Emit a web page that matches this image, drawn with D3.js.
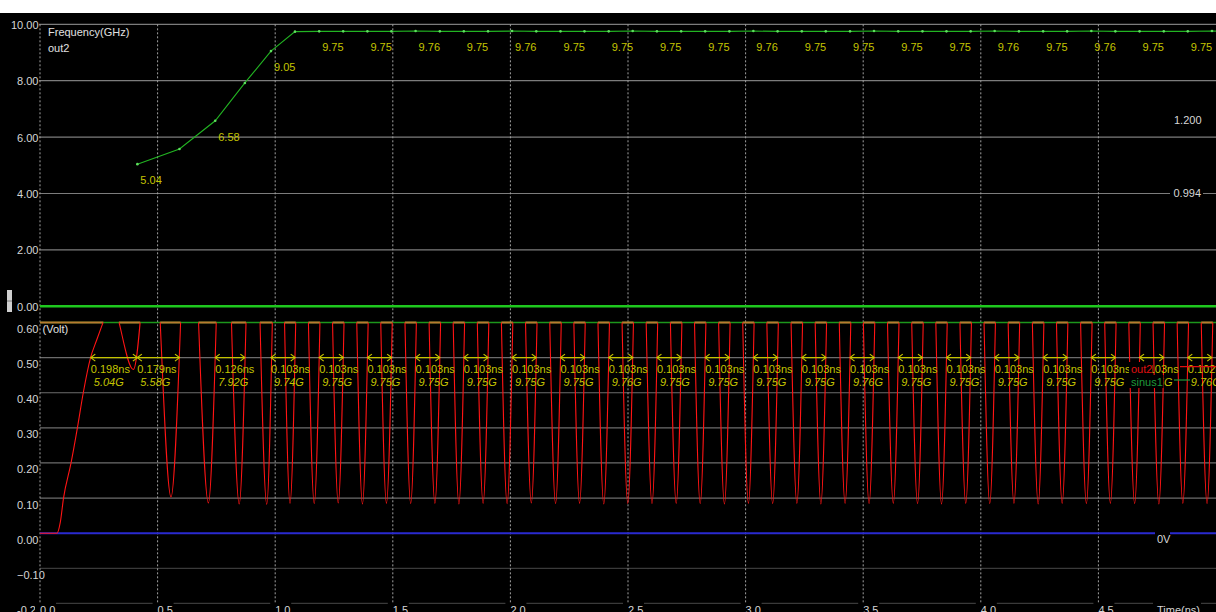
<!DOCTYPE html>
<html><head><meta charset="utf-8">
<script src="https://cdn.jsdelivr.net/npm/d3@7"></script>
<style>
html,body{margin:0;padding:0;background:#000;}
svg{display:block;}
text{font-family:"Liberation Sans",Arial,sans-serif;font-size:11px;}
</style></head><body>
<svg id="chart" width="1216" height="612"></svg>
<script>
// ---------- data ----------
const timeTicks = [0, 0.5, 1, 1.5, 2, 2.5, 3, 3.5, 4, 4.5];
const timeTickLabels = ["0.0","0.5","1.0","1.5","2.0","2.5","3.0","3.5","4.0","4.5"];
const freqTicks = [10, 8, 6, 4, 2, 0];
const voltTicks = [0.6, 0.5, 0.4, 0.3, 0.2, 0.1, 0, -0.1];

// out2 frequency, one point per period (time in ns, GHz)
const freqTime = [0.414, 0.593, 0.745, 0.871, 0.982,
  1.084, 1.187, 1.289, 1.392, 1.494, 1.597, 1.700, 1.802, 1.905, 2.007,
  2.110, 2.213, 2.315, 2.418, 2.520, 2.623, 2.726, 2.828, 2.931, 3.033,
  3.136, 3.239, 3.341, 3.444, 3.546, 3.649, 3.752, 3.854, 3.957, 4.059,
  4.162, 4.265, 4.367, 4.470, 4.572, 4.675, 4.778, 4.880, 4.983, 5.086];
const freqGHz = [5.04, 5.58, 6.58, 7.92, 9.05,
  9.74, 9.75, 9.75, 9.75, 9.75, 9.76, 9.75, 9.75, 9.75, 9.76,
  9.75, 9.75, 9.75, 9.75, 9.76, 9.75, 9.75, 9.75, 9.75, 9.76,
  9.75, 9.75, 9.75, 9.75, 9.76, 9.75, 9.75, 9.75, 9.75, 9.76,
  9.75, 9.75, 9.75, 9.76, 9.75, 9.75, 9.75, 9.75, 9.76, 9.75];
// points that carry a value label
const freqLabelIdx = [0, 2, 4, 6, 8, 10, 12, 14, 16, 18, 20, 22, 24, 26, 28, 30, 32, 34, 36, 38, 40, 42];

// out2 waveform: start-up edge, then alternating minima / maxima (ns, V)
const waveTime = [0.000, 0.072, 0.086, 0.100, 0.132, 0.159, 0.184, 0.215, 0.241, 0.268, 0.301,
  0.397, 0.477, 0.557, 0.636, 0.716, 0.782, 0.847, 0.906, 0.964, 1.014, 1.063,
  1.114, 1.166, 1.217, 1.268, 1.320, 1.371, 1.422, 1.473, 1.525, 1.576,
  1.627, 1.679, 1.730, 1.781, 1.832, 1.884, 1.935, 1.986, 2.037, 2.089,
  2.140, 2.192, 2.243, 2.294, 2.345, 2.397, 2.448, 2.499, 2.550, 2.602,
  2.653, 2.705, 2.756, 2.807, 2.858, 2.910, 2.961, 3.012, 3.063, 3.115,
  3.166, 3.218, 3.269, 3.320, 3.371, 3.423, 3.474, 3.525, 3.576, 3.628,
  3.679, 3.731, 3.782, 3.833, 3.884, 3.936, 3.987, 4.038, 4.089, 4.141,
  4.192, 4.244, 4.295, 4.346, 4.397, 4.449, 4.500, 4.551, 4.602, 4.654,
  4.705, 4.757, 4.808, 4.859, 4.910, 4.962, 5.013, 5.064];
const waveVolt = [0.000, 0.000, 0.030, 0.100, 0.200, 0.300, 0.400, 0.500, 0.550, 0.600, 0.660,
  0.466, 0.920, 0.103, 1.050, 0.086, 1.100, 0.083, 1.150, 0.082, 1.200, 0.085,
  1.200, 0.084, 1.200, 0.086, 1.200, 0.083, 1.200, 0.085, 1.200, 0.084,
  1.200, 0.085, 1.200, 0.083, 1.200, 0.085, 1.200, 0.084, 1.200, 0.086,
  1.200, 0.084, 1.200, 0.085, 1.200, 0.083, 1.200, 0.085, 1.200, 0.084,
  1.200, 0.085, 1.200, 0.084, 1.200, 0.083, 1.200, 0.085, 1.200, 0.084,
  1.200, 0.085, 1.200, 0.083, 1.200, 0.085, 1.200, 0.084, 1.200, 0.085,
  1.200, 0.084, 1.200, 0.083, 1.200, 0.085, 1.200, 0.084, 1.200, 0.085,
  1.200, 0.083, 1.200, 0.085, 1.200, 0.084, 1.200, 0.085, 1.200, 0.084,
  1.200, 0.083, 1.200, 0.085, 1.200, 0.084, 1.200, 0.085];

// period measurements on out2 at the 0.5 V level
const measStart = [0.216, 0.414, 0.745, 0.982, 1.187, 1.392, 1.597, 1.802, 2.007, 2.213,
  2.418, 2.623, 2.828, 3.033, 3.239, 3.444, 3.649, 3.854, 4.059, 4.265, 4.470, 4.675, 4.880];
const measPeriod = [0.198, 0.179, 0.126, 0.103, 0.103, 0.103, 0.103, 0.103, 0.103, 0.103,
  0.103, 0.103, 0.103, 0.103, 0.103, 0.103, 0.103, 0.103, 0.103, 0.103, 0.103, 0.103, 0.102];
const measFreq = [5.04, 5.58, 7.92, 9.74, 9.75, 9.75, 9.75, 9.75, 9.75, 9.75,
  9.76, 9.75, 9.75, 9.75, 9.75, 9.76, 9.75, 9.75, 9.75, 9.75, 9.75, 9.75, 9.76];

// ---------- drawing ----------
const W = 1216, H = 612, X0 = 40, X1 = 1216;
const svg = d3.select("#chart");
svg.append("rect").attr("width", W).attr("height", H).attr("fill", "#000");
svg.append("rect").attr("width", W).attr("height", 13).attr("fill", "#fff");

const x = d3.scaleLinear().domain([0, 5]).range([X0, X1]);
const yF = d3.scaleLinear().domain([0, 10]).range([306.3, 24.3]);
const yV = d3.scaleLinear().domain([-0.2, 0.6]).range([603.4, 322.5]);
const f2 = d3.format(".2f"), f3 = d3.format(".3f");
const axisCol = "#d6d6d6", yel = "#c4c400";

// top panel horizontal grid
svg.append("g").selectAll("line").data(freqTicks.filter(d => d > 0)).join("line")
  .attr("x1", 39).attr("x2", X1).attr("y1", d => yF(d)).attr("y2", d => yF(d))
  .attr("stroke", "#7c7c7c").attr("stroke-width", 1.2);
svg.append("g").selectAll("text").data(freqTicks).join("text")
  .attr("x", 38.5).attr("y", d => yF(d) + 4.5).attr("text-anchor", "end")
  .attr("fill", axisCol).text(d => f2(d));

// bottom panel horizontal grid
svg.append("g").selectAll("line").data(voltTicks.filter(d => d !== 0 && d !== 0.6).concat([-0.2])).join("line")
  .attr("x1", X0).attr("x2", X1).attr("y1", d => yV(d)).attr("y2", d => yV(d))
  .attr("stroke", d => d > 0 ? "#6c6c6c" : "#3a3a3a").attr("stroke-width", 1.2);
svg.append("g").selectAll("text").data(voltTicks).join("text")
  .attr("x", 17).attr("y", d => yV(d) + 10.5)
  .attr("fill", axisCol).text(d => f2(d));
svg.append("text").attr("x", 17).attr("y", 613.5).attr("fill", axisCol).text("-0.2");

// x tick label backgrounds (cut the bottom grid line) and labels
const xl = svg.append("g");
xl.selectAll("rect").data(timeTicks).join("rect")
  .attr("x", d => x(d) - 5).attr("y", 601).attr("width", 21).attr("height", 11).attr("fill", "#000");
xl.append("rect").attr("x", 1153).attr("y", 601).attr("width", 48).attr("height", 11).attr("fill", "#000");

// vertical dashed time grid
svg.append("g").selectAll("line").data(timeTicks).join("line")
  .attr("x1", d => x(d)).attr("x2", d => x(d)).attr("y1", 24.3).attr("y2", 603)
  .attr("stroke", "#a0a0a0").attr("stroke-dasharray", "2,2");

xl.selectAll("text").data(timeTicks).join("text")
  .attr("x", d => x(d)).attr("y", 613.5).attr("fill", axisCol)
  .text((d, i) => timeTickLabels[i]);
xl.append("text").attr("x", 1157).attr("y", 613.5).attr("fill", axisCol).text("Time(ns)");

// panel titles
svg.append("text").attr("x", 48).attr("y", 35.5).attr("fill", "#e0e0e0").text("Frequency(GHz)");
svg.append("text").attr("x", 48).attr("y", 52).attr("fill", "#e0e0e0").text("out2");
svg.append("text").attr("x", 42.5).attr("y", 333).attr("fill", "#e0e0e0").text("(Volt)");

// right-hand readouts in the top panel
svg.append("text").attr("x", 1174).attr("y", 124).attr("fill", axisCol).text("1.200");
svg.append("rect").attr("x", 1170).attr("y", 187).attr("width", 33).attr("height", 12).attr("fill", "#000");
svg.append("text").attr("x", 1173.5).attr("y", 197).attr("fill", axisCol).text("0.994");

// top panel zero trace
svg.append("line").attr("x1", X0).attr("x2", X1).attr("y1", yF(0)).attr("y2", yF(0))
  .attr("stroke", "#1ec81e").attr("stroke-width", 2.6);

// frequency trace
const fIdx = d3.range(freqTime.length);
const fLine = d3.line().x(i => x(freqTime[i])).y(i => yF(freqGHz[i]));
svg.append("path").attr("d", fLine(fIdx)).attr("fill", "none")
  .attr("stroke", "#22b422").attr("stroke-width", 1.1);
svg.append("g").selectAll("circle").data(fIdx).join("circle")
  .attr("cx", i => x(freqTime[i])).attr("cy", i => yF(freqGHz[i])).attr("r", 1.3)
  .attr("fill", "#5ee05e");
svg.append("g").selectAll("text").data(freqLabelIdx).join("text")
  .attr("x", i => x(freqTime[i]) + 3).attr("y", i => yF(freqGHz[i]) + 20)
  .attr("fill", yel).text(i => f2(freqGHz[i]));

// splitter handle at the left edge
svg.append("rect").attr("x", 7).attr("y", 290).attr("width", 5).attr("height", 22).attr("fill", "#cfcfcf");
svg.append("line").attr("x1", 7).attr("x2", 12).attr("y1", 301).attr("y2", 301).attr("stroke", "#777");

// bottom panel top border
svg.append("line").attr("x1", X0).attr("x2", X1).attr("y1", yV(0.6)).attr("y2", yV(0.6))
  .attr("stroke", "#1c961c").attr("stroke-width", 1.3);

// 0 V reference
svg.append("line").attr("x1", X0).attr("x2", X1).attr("y1", yV(0)).attr("y2", yV(0))
  .attr("stroke", "#2a2ad0").attr("stroke-width", 2);
svg.append("rect").attr("x", 1155).attr("y", 529).attr("width", 15).attr("height", 15).attr("fill", "#000");
svg.append("text").attr("x", 1157).attr("y", 543).attr("fill", axisCol).text("0V");

// waveform
const defs = svg.append("defs");
defs.append("clipPath").attr("id", "vclip").append("rect")
  .attr("x", X0).attr("y", yV(0.6)).attr("width", X1 - X0).attr("height", H - yV(0.6));
defs.append("clipPath").attr("id", "topband").append("rect")
  .attr("x", X0).attr("y", yV(0.6) - 0.9).attr("width", X1 - X0).attr("height", 1.8);
const wIdx = d3.range(waveTime.length);
const wLine = d3.line().x(i => x(waveTime[i])).y(i => yV(waveVolt[i])).curve(d3.curveMonotoneX);
const wArea = d3.area().x(i => x(waveTime[i])).y0(yV(2)).y1(i => yV(waveVolt[i])).curve(d3.curveMonotoneX);
// portions above the panel are drawn flat along its top edge
svg.append("path").attr("d", wArea(wIdx)).attr("fill", "#b87a30").attr("clip-path", "url(#topband)");
svg.append("path").attr("d", wLine(wIdx)).attr("fill", "none")
  .attr("stroke", "#ff1414").attr("stroke-width", 1.1).attr("clip-path", "url(#vclip)");

// period measurement arrows and readouts
const mg = svg.append("g");
const yArr = yV(0.5);
measStart.forEach((s, i) => {
  const a = x(s), b = x(s + measPeriod[i]);
  mg.append("line").attr("x1", a).attr("x2", b).attr("y1", yArr).attr("y2", yArr)
    .attr("stroke", yel).attr("stroke-width", 1.2);
  mg.append("path").attr("d", `M${a + 4.5},${yArr - 3.5}L${a},${yArr}L${a + 4.5},${yArr + 3.5}`)
    .attr("fill", "none").attr("stroke", yel).attr("stroke-width", 1.2);
  mg.append("path").attr("d", `M${b - 4.5},${yArr - 3.5}L${b},${yArr}L${b - 4.5},${yArr + 3.5}`)
    .attr("fill", "none").attr("stroke", yel).attr("stroke-width", 1.2);
  mg.append("text").attr("x", a).attr("y", 373.3).attr("fill", yel).text(f3(measPeriod[i]) + "ns");
  mg.append("text").attr("x", a + 3).attr("y", 386).attr("fill", yel)
    .attr("font-style", "italic").text(f2(measFreq[i]) + "G");
});

// legend
const lg = svg.append("g");
lg.append("rect").attr("x", 1129).attr("y", 362).attr("width", 23.5).attr("height", 13).attr("fill", "#000");
lg.append("text").attr("x", 1131).attr("y", 373.3).attr("fill", "#e01010").text("out2");
lg.append("line").attr("x1", 1180).attr("x2", X1).attr("y1", 366.7).attr("y2", 366.7)
  .attr("stroke", "#e01010").attr("stroke-width", 1.2);
lg.append("rect").attr("x", 1129).attr("y", 375).attr("width", 34.5).attr("height", 13).attr("fill", "#000");
lg.append("text").attr("x", 1131).attr("y", 386).attr("fill", "#1f9a3a").text("sinus1");
lg.append("line").attr("x1", 1174).attr("x2", 1190).attr("y1", 380).attr("y2", 380)
  .attr("stroke", "#1f9a3a").attr("stroke-width", 1.2);
</script>
</body></html>
